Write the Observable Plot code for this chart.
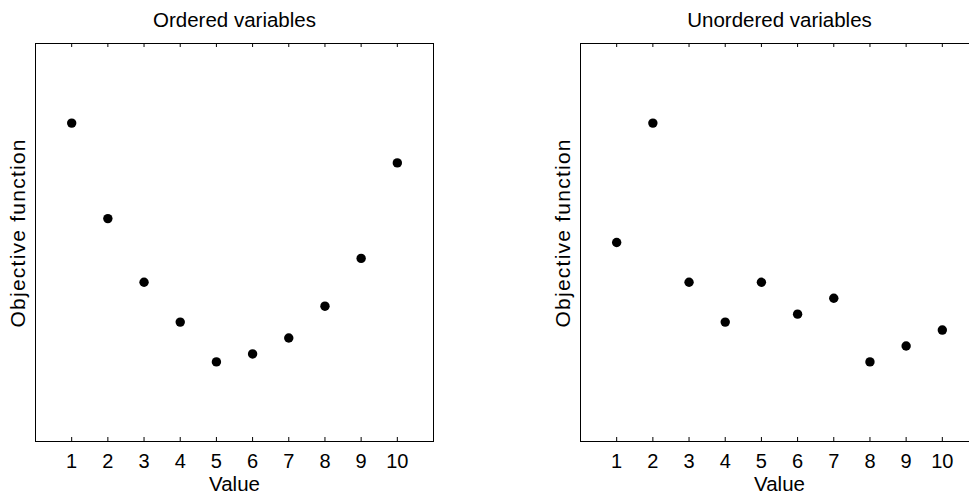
<!DOCTYPE html>
<html>
<head>
<meta charset="utf-8">
<script src="https://cdn.jsdelivr.net/npm/d3@7"></script>
<script src="https://cdn.jsdelivr.net/npm/@observablehq/plot@0.6"></script>
<style>
  html, body { margin: 0; padding: 0; background: #fff; overflow: hidden; width: 969px; height: 496px; }
  #wrap { position: relative; width: 969px; height: 496px; overflow: hidden; }
  #left, #right { position: absolute; top: 0; }
  #left { left: 0; width: 480px; }
  #right { left: 500px; width: 469px; }
  svg { max-width: none !important; overflow: hidden; font-family: "Liberation Sans", Arial, Helvetica, sans-serif; }
</style>
</head>
<body>
<div id="wrap"><div id="left"></div><div id="right"></div></div>
<script>
// ---- data ----
const values = [1, 2, 3, 4, 5, 6, 7, 8, 9, 10];
const orderedObjective = [8, 5.6, 4, 3, 2, 2.2, 2.6, 3.4, 4.6, 7];
const unorderedObjective = [5, 8, 4, 3, 4, 3.2, 3.6, 2, 2.4, 2.8];
const xTicks = [1, 2, 3, 4, 5, 6, 7, 8, 9, 10];
const xDomain = [0, 11];
const yDomain = [0, 10];
const titles = ["Ordered variables", "Unordered variables"];
const xLabel = "Value";
const yLabel = "Objective function";

const FRAME_W = 398, FRAME_H = 398, TICK = 4;

function panel(series, title, marginLeft, width) {
  const data = values.map((v, i) => ({x: v, y: series[i]}));
  const svg = Plot.plot({
    width,
    height: 496,
    marginLeft,
    marginRight: width - marginLeft - FRAME_W,
    marginTop: 43,
    marginBottom: 55,
    style: {fontSize: "20px", fontFamily: "Liberation Sans, Arial, sans-serif", color: "black", background: "white", maxWidth: "none", overflow: "hidden"},
    x: {domain: xDomain},
    y: {domain: yDomain, axis: null},
    marks: [
      Plot.frame({stroke: "black", strokeWidth: 1}),
      // inward tick marks at bottom and top of the box
      Plot.ruleX(xTicks, {x: d => d, insetTop: FRAME_H - TICK, stroke: "black"}),
      Plot.ruleX(xTicks, {x: d => d, insetBottom: FRAME_H - TICK, stroke: "black"}),
      // tick labels
      Plot.axisX({anchor: "bottom", ticks: xTicks, tickSize: 0, tickPadding: 12, label: null, fontSize: 20}),
      Plot.dot(data, {x: "x", y: "y", r: 4.7, fill: "black", stroke: null}),
      Plot.text([title], {text: d => d, frameAnchor: "top", dy: -31, fontSize: 20.5}),
      Plot.text([xLabel], {text: d => d, frameAnchor: "bottom", dy: 49.5, fontSize: 20.5}),
      Plot.text([yLabel], {text: d => d, frameAnchor: "left", textAnchor: "middle", dx: -17.5, dy: -9, rotate: -90, fontSize: 21})
    ]
  });
  d3.select(svg).selectAll("text")
    .filter(function () { return this.textContent === yLabel; })
    .attr("textLength", 188)
    .attr("lengthAdjust", "spacing");
  return svg;
}

document.getElementById("left").appendChild(panel(orderedObjective, titles[0], 35, 480));
// the right panel's box runs past the window edge, as in the reference
document.getElementById("right").appendChild(panel(unorderedObjective, titles[1], 80, 469));
</script>
</body>
</html>
